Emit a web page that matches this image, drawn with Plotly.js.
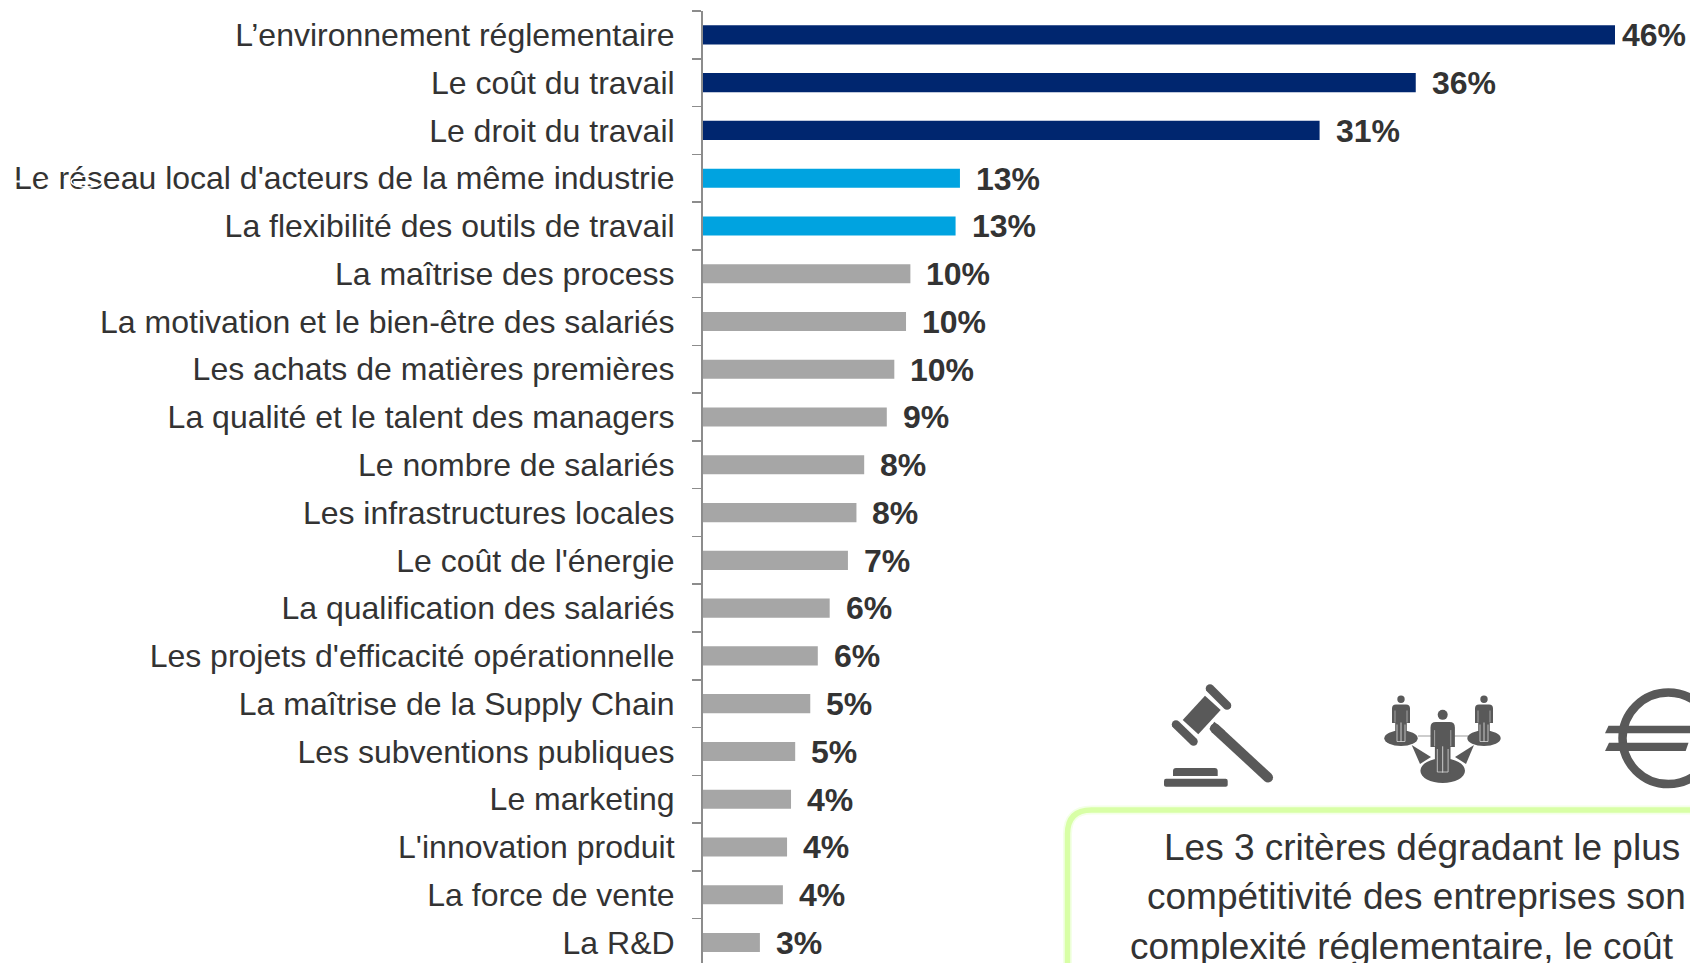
<!DOCTYPE html>
<html lang="fr">
<head>
<meta charset="utf-8">
<script src="https://cdn.plot.ly/plotly-3.0.1.min.js"></script>
<style>html,body{margin:0;padding:0;background:#fff;overflow:hidden}#chart{width:1690px;height:963px}</style>
</head>
<body>
<div id="chart"></div>
<script>
const categories = ["L’environnement réglementaire","Le coût du travail","Le droit du travail","Le réseau local d'acteurs de la même industrie","La flexibilité des outils de travail","La maîtrise des process","La motivation et le bien-être des salariés","Les achats de matières premières","La qualité et le talent des managers","Le nombre de salariés","Les infrastructures locales","Le coût de l'énergie","La qualification des salariés","Les projets d'efficacité opérationnelle","La maîtrise de la Supply Chain","Les subventions publiques","Le marketing","L'innovation produit","La force de vente","La R&D"];
const values = [46,35.95,31.1,12.96,12.74,10.46,10.24,9.65,9.27,8.13,7.74,7.31,6.39,5.79,5.41,4.65,4.44,4.24,4.03,2.87];
const valueLabels = ["46%","36%","31%","13%","13%","10%","10%","10%","9%","8%","8%","7%","6%","6%","5%","5%","4%","4%","4%","3%"];
const groups = [0,0,0,1,1,2,2,2,2,2,2,2,2,2,2,2,2,2,2,2];
const groupColors = ["#00266f","#00a3e0","#a6a6a6"];
const calloutLines = ["Les 3 critères dégradant le plus","compétitivité des entreprises son","complexité réglementaire, le coût"];

const W=1690,H=963,L=703,T=11;
const PW=W-L,PH=H-T;
const px=x=>(x-L)/PW, py=y=>(H-y)/PH;
const P=s=>s.replace(/(-?[\d.]+),(-?[\d.]+)/g,(m,a,b)=>px(+a)+','+py(+b));
const ICON="#595959";
const shapes=[];
const fill=(d,c=ICON)=>shapes.push({type:'path',xref:'paper',yref:'paper',layer:'above',path:P(d),fillcolor:c,line:{width:0}});
const stroke=(d,c,w)=>shapes.push({type:'path',xref:'paper',yref:'paper',layer:'above',path:P(d),line:{color:c,width:w}});
const ell=(cx,cy,rx,ry,c=ICON)=>shapes.push({type:'circle',xref:'paper',yref:'paper',layer:'above',x0:px(cx-rx),x1:px(cx+rx),y0:py(cy+ry),y1:py(cy-ry),fillcolor:c,line:{width:0}});
function capsule(x1,y1,x2,y2,w){
  const a=Math.atan2(y2-y1,x2-x1),r=w/2;let pts=[];
  for(let i=0;i<=8;i++){const t=a-Math.PI/2+Math.PI*i/8;pts.push((x2+r*Math.cos(t)).toFixed(2)+','+(y2+r*Math.sin(t)).toFixed(2));}
  for(let i=0;i<=8;i++){const t=a+Math.PI/2+Math.PI*i/8;pts.push((x1+r*Math.cos(t)).toFixed(2)+','+(y1+r*Math.sin(t)).toFixed(2));}
  return 'M'+pts.join(' L')+' Z';
}
// callout frame
const frame="M1067.5,990 L1067.5,834 Q1067.5,810 1091.5,810 L1720,810 L1720,990";
stroke(frame,"#f4ffe8",9);
stroke(frame,"#d8ffa6",5.5);
// gavel
fill("M1166,778.7 L1225.7,778.7 Q1227.7,778.7 1227.7,781 L1227.7,785 Q1227.7,786.7 1225.7,786.7 L1166,786.7 Q1164,786.7 1164,785 L1164,781 Q1164,778.7 1166,778.7 Z");
fill("M1173,776 L1173,771 Q1173,768 1176,768 L1214.7,768 Q1217.7,768 1217.7,771 L1217.7,776 Z");
fill("M1205,695.7 L1220.7,710 L1198.3,734.3 L1182.7,720 Z");
fill(capsule(1210,688.5,1227,705.5,8.5));
fill(capsule(1176,724.5,1193.5,741.5,8.5));
fill("M1214.3,721.7 L1209.3,729 L1220,738 L1225,731 Z");
fill(capsule(1215,728.5,1268,777.5,10));
// networked people
stroke("M1418,736 L1468,736","#bdbdbd",1.5);
ell(1401,738.3,16.7,7.7);
ell(1484,738.3,16.7,7.7);
ell(1442.7,770.7,22.3,12.3);
fill("M1411.7,745 L1431,757 L1420,764 Z");
fill("M1474,745 L1455,757 L1466,764 Z");
function person(cx,top,s){
  const Y=v=>(top+v*s).toFixed(1),X=v=>(cx+v*s).toFixed(1);
  ell(cx,top-5.3*s,3.7*s,3.7*s);
  fill(`M${X(-5)},${Y(0)} L${X(5)},${Y(0)} Q${X(9)},${Y(0)} ${X(9)},${Y(4)} L${X(9)},${Y(18.5)} L${X(5.8)},${Y(18.5)} L${X(5.8)},${Y(38)} L${X(-5.8)},${Y(38)} L${X(-5.8)},${Y(18.5)} L${X(-9)},${Y(18.5)} L${X(-9)},${Y(4)} Q${X(-9)},${Y(0)} ${X(-5)},${Y(0)} Z`);
  const w=.8;
  stroke(`M${X(0)},${Y(18)} L${X(0)},${Y(37.5)}`,"#e8e8e8",w);
  stroke(`M${X(-6)},${Y(6)} L${X(-6)},${Y(18)}`,"#b8b8b8",w);
  stroke(`M${X(6)},${Y(6)} L${X(6)},${Y(18)}`,"#b8b8b8",w);
  stroke(`M${X(-4)},${Y(20)} L${X(-4)},${Y(37)} L${X(4)},${Y(37)} L${X(4)},${Y(20)}`,"#d8d8d8",w);
}
person(1401,704.5,1);
person(1484,704.5,1);
person(1442.7,722,1.35);
// euro
shapes.push({type:'circle',xref:'paper',yref:'paper',layer:'above',x0:px(1668.3-45.8),x1:px(1668.3+45.8),y0:py(738.3+45.8),y1:py(738.3-45.8),line:{color:ICON,width:8.5},fillcolor:'rgba(0,0,0,0)'});
fill("M1605,733.3 L1608.5,725.7 L1700,725.7 L1700,733.3 Z");
fill("M1605,751 L1609,742.7 L1688.5,742.7 L1685.7,751 Z");
// printing flecks on the first word of the fourth label
const W2="#ffffff";
stroke("M16,181.5 L24,181.5","#fff",2);
stroke("M40,182 L49,180","#fff",1.8);
stroke("M64,176 L70,179","#fff",1.6);
shapes.push({type:'circle',xref:'paper',yref:'paper',layer:'above',x0:px(71),x1:px(102),y0:py(187),y1:py(176),line:{color:W2,width:1.6},fillcolor:'rgba(0,0,0,0)'});

const TEXT="#333333";
const annotations=valueLabels.map((t,i)=>({x:values[i],y:categories[i],xref:'x',yref:'y',text:'<b>'+t+'</b>',showarrow:false,xanchor:'left',yanchor:'middle',borderpad:0,borderwidth:0,
  xshift:i===0?7:16,yshift:i===0?0:-0.3,font:{family:'"Liberation Sans",Arial,sans-serif',size:32,color:TEXT}}));
const lineStarts=[1164,1147,1130],lineCenters=[847.5,896.5,946.5];
calloutLines.forEach((t,i)=>annotations.push({xref:'paper',yref:'paper',x:px(lineStarts[i]),y:py(lineCenters[i]),text:t,showarrow:false,xanchor:'left',yanchor:'middle',borderpad:0,borderwidth:0,font:{family:'"Liberation Sans",Arial,sans-serif',size:37,color:TEXT}}));

Plotly.newPlot('chart',[{type:'bar',orientation:'h',y:categories,x:values,marker:{color:groups.map(g=>groupColors[g]),line:{width:0}},hoverinfo:'skip'}],{
  width:W,height:H,margin:{l:L,r:0,t:T,b:0,autoexpand:false},paper_bgcolor:'#fff',plot_bgcolor:'#fff',showlegend:false,bargap:0.6,
  font:{family:'"Liberation Sans",Arial,sans-serif',color:TEXT},
  xaxis:{range:[0,PW/(912/46)],visible:false,fixedrange:true},
  yaxis:{type:'category',categoryorder:'array',categoryarray:categories,range:[(PH/47.77)-0.5,-0.5],tickson:'boundaries',ticks:'outside',ticklen:9,tickwidth:1.5,tickcolor:'#8c8c8c',showline:true,linecolor:'#8c8c8c',linewidth:2,showgrid:false,zeroline:false,ticklabelstandoff:20,tickfont:{family:'"Liberation Sans",Arial,sans-serif',size:32,color:TEXT},automargin:false,fixedrange:true},
  shapes,annotations
},{displayModeBar:false,staticPlot:true});
</script>
</body>
</html>
